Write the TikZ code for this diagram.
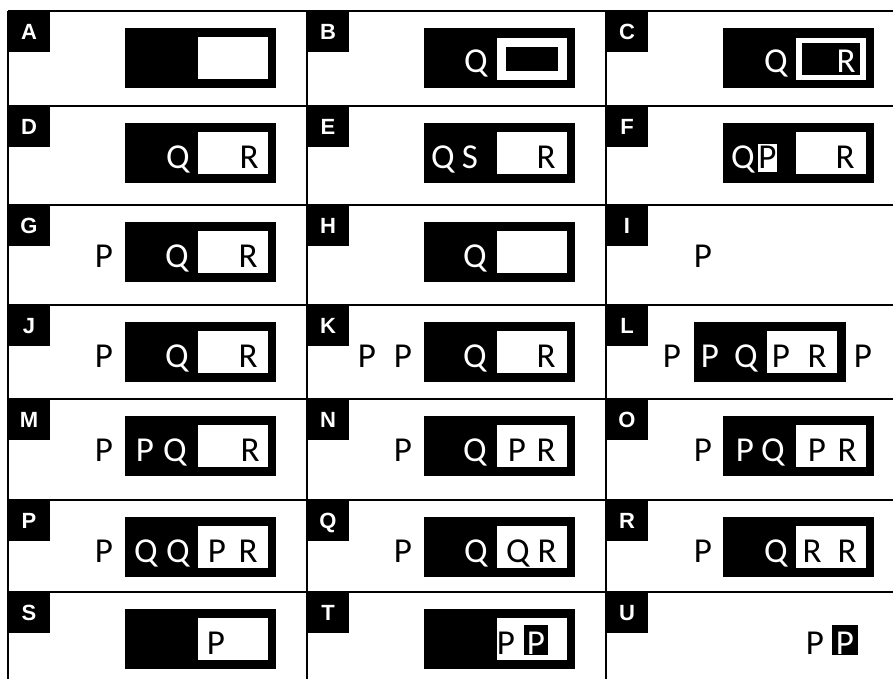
\documentclass[tikz,border=0pt]{standalone}
\usepackage{fontspec}
\setmainfont{Carlito}
\newfontfamily\labfont{Liberation Sans}
\tikzset{
  gridline/.style={line width=2.6pt},
  lab/.style={fill=black, text=white, font=\labfont\bfseries\fontsize{22}{22}\selectfont,
    minimum width=42pt, minimum height=41pt, text height=15.8pt, text depth=0pt,
    inner sep=0pt, outer sep=0pt, anchor=north west},
  ltr/.style={inner sep=0pt, outer sep=0pt, anchor=base, font=\fontsize{35}{35}\selectfont},
  wl/.style={ltr, text=white},
  bl/.style={ltr, text=black},
  blkbox/.style={fill=black, draw=none},
  whtbox/.style={fill=white, draw=none},
}
\newcommand\bx[6]{\node[#2, inner sep=0pt, outer sep=0pt, anchor=north west,
  minimum width={#5pt-#3pt}, minimum height={#6pt-#4pt}] (#1) at (#3,#4) {};}
\newcommand\lt[4]{\node[#2] (#1) at (#3,62) {#4};}
\begin{document}
\begin{tikzpicture}[x=1pt,y=-1pt]
\useasboundingbox (0,0) rectangle (893,679);
\fill[white] (0,0) rectangle (893,679);
\begin{scope}
\clip (0,0) rectangle (893,679);
\foreach \yy in {11,106,205,305,399,500,592} \draw[gridline] (8,\yy) -- (900,\yy);
\foreach \xx in {8,307,606} \draw[gridline] (\xx,11) -- (\xx,690);
\end{scope}
% A
\begin{scope}[shift={(8,11)}]
\node[lab] (labA) at (0,0) {A};
\bx{A-o}{blkbox}{117}{17}{268}{77}
\bx{A-i}{whtbox}{190}{26}{260}{68}
\end{scope}
% B
\begin{scope}[shift={(307,11)}]
\node[lab] (labB) at (0,0) {B};
\bx{B-o}{blkbox}{117}{17}{268}{77}
\bx{B-i}{whtbox}{190}{27}{260}{69}
\bx{B-k}{blkbox}{199}{36}{251}{60}
\lt{B-q}{wl}{169}{Q}
\end{scope}
% C
\begin{scope}[shift={(606,11)}]
\node[lab] (labC) at (0,0) {C};
\bx{C-o}{blkbox}{117}{17}{268}{77}
\bx{C-i}{whtbox}{190}{27}{260}{69}
\bx{C-k}{blkbox}{196}{32}{254}{64}
\lt{C-q}{wl}{170}{Q}
\lt{C-r}{wl}{240}{R}
\end{scope}
% D
\begin{scope}[shift={(8,106)}]
\node[lab] (labD) at (0,0) {D};
\bx{D-o}{blkbox}{117}{17}{268}{77}
\bx{D-i}{whtbox}{190}{26}{260}{68}
\lt{D-q}{wl}{170}{Q}
\lt{D-r}{bl}{241}{R}
\end{scope}
% E
\begin{scope}[shift={(307,106)}]
\node[lab] (labE) at (0,0) {E};
\bx{E-o}{blkbox}{117}{17}{268}{77}
\bx{E-i}{whtbox}{190}{26}{260}{68}
\lt{E-q}{wl}{136}{Q}
\lt{E-s}{wl}{163}{S}
\lt{E-r}{bl}{239}{R}
\end{scope}
% F
\begin{scope}[shift={(606,106)}]
\node[lab] (labF) at (0,0) {F};
\bx{F-o}{blkbox}{117}{17}{268}{77}
\bx{F-i}{whtbox}{190}{26}{260}{68}
\lt{F-q}{wl}{137}{Q}
\bx{F-w}{whtbox}{152}{38}{171}{66}
\lt{F-p}{bl}{161.5}{P}
\lt{F-r}{bl}{239}{R}
\end{scope}
% G
\begin{scope}[shift={(8,205)}]
\node[lab] (labG) at (0,0) {G};
\lt{G-p}{bl}{96}{P}
\bx{G-o}{blkbox}{117}{17}{268}{77}
\bx{G-i}{whtbox}{190}{26}{260}{68}
\lt{G-q}{wl}{169}{Q}
\lt{G-r}{bl}{240}{R}
\end{scope}
% H
\begin{scope}[shift={(307,205)}]
\node[lab] (labH) at (0,0) {H};
\bx{H-o}{blkbox}{117}{17}{268}{77}
\bx{H-i}{whtbox}{190}{26}{260}{68}
\lt{H-q}{wl}{168}{Q}
\end{scope}
% I
\begin{scope}[shift={(606,205)}]
\node[lab] (labI) at (0,0) {I};
\lt{I-p}{bl}{97}{P}
\end{scope}
% J
\begin{scope}[shift={(8,305)}]
\node[lab] (labJ) at (0,0) {J};
\lt{J-p}{bl}{96}{P}
\bx{J-o}{blkbox}{117}{17}{268}{77}
\bx{J-i}{whtbox}{190}{26}{260}{68}
\lt{J-q}{wl}{169}{Q}
\lt{J-r}{bl}{240}{R}
\end{scope}
% K
\begin{scope}[shift={(307,305)}]
\node[lab] (labK) at (0,0) {K};
\lt{K-p1}{bl}{60}{P}
\lt{K-p2}{bl}{96}{P}
\bx{K-o}{blkbox}{117}{17}{268}{77}
\bx{K-i}{whtbox}{190}{26}{260}{68}
\lt{K-q}{wl}{168}{Q}
\lt{K-r}{bl}{239}{R}
\end{scope}
% L
\begin{scope}[shift={(606,305)}]
\node[lab] (labL) at (0,0) {L};
\lt{L-p1}{bl}{66}{P}
\bx{L-o}{blkbox}{88}{17}{240}{77}
\bx{L-i}{whtbox}{161}{26}{231}{68}
\lt{L-p2}{wl}{104}{P}
\lt{L-q}{wl}{140}{Q}
\lt{L-p3}{bl}{175}{P}
\lt{L-r}{bl}{211}{R}
\lt{L-p4}{bl}{257}{P}
\end{scope}
% M
\begin{scope}[shift={(8,399)}]
\node[lab] (labM) at (0,0) {M};
\lt{M-p1}{bl}{96}{P}
\bx{M-o}{blkbox}{117}{17}{268}{77}
\bx{M-i}{whtbox}{190}{26}{260}{68}
\lt{M-p2}{wl}{137}{P}
\lt{M-q}{wl}{167}{Q}
\lt{M-r}{bl}{242}{R}
\end{scope}
% N
\begin{scope}[shift={(307,399)}]
\node[lab] (labN) at (0,0) {N};
\lt{N-p1}{bl}{96}{P}
\bx{N-o}{blkbox}{117}{17}{268}{77}
\bx{N-i}{whtbox}{190}{26}{260}{68}
\lt{N-q}{wl}{168}{Q}
\lt{N-p2}{bl}{210}{P}
\lt{N-r}{bl}{239}{R}
\end{scope}
% O
\begin{scope}[shift={(606,399)}]
\node[lab] (labO) at (0,0) {O};
\lt{O-p1}{bl}{97}{P}
\bx{O-o}{blkbox}{117}{17}{268}{77}
\bx{O-i}{whtbox}{190}{26}{260}{68}
\lt{O-p2}{wl}{139}{P}
\lt{O-q}{wl}{167}{Q}
\lt{O-p3}{bl}{211}{P}
\lt{O-r}{bl}{241}{R}
\end{scope}
% P
\begin{scope}[shift={(8,500)}]
\node[lab] (labP) at (0,0) {P};
\lt{P-p1}{bl}{96}{P}
\bx{P-o}{blkbox}{117}{17}{268}{77}
\bx{P-i}{whtbox}{190}{26}{260}{68}
\lt{P-q1}{wl}{138}{Q}
\lt{P-q2}{wl}{170}{Q}
\lt{P-p2}{bl}{209}{P}
\lt{P-r}{bl}{240}{R}
\end{scope}
% Q
\begin{scope}[shift={(307,500)}]
\node[lab] (labQ) at (0,0) {Q};
\lt{Q-p}{bl}{96}{P}
\bx{Q-o}{blkbox}{117}{17}{268}{77}
\bx{Q-i}{whtbox}{190}{26}{260}{68}
\lt{Q-q1}{wl}{169}{Q}
\lt{Q-q2}{bl}{211}{Q}
\lt{Q-r}{bl}{240}{R}
\end{scope}
% R
\begin{scope}[shift={(606,500)}]
\node[lab] (labR) at (0,0) {R};
\lt{R-p}{bl}{97}{P}
\bx{R-o}{blkbox}{117}{17}{268}{77}
\bx{R-i}{whtbox}{190}{26}{260}{68}
\lt{R-q}{wl}{170}{Q}
\lt{R-r1}{bl}{206}{R}
\lt{R-r2}{bl}{241}{R}
\end{scope}
% S
\begin{scope}[shift={(8,592)}]
\node[lab] (labS) at (0,0) {S};
\bx{S-o}{blkbox}{117}{17}{268}{77}
\bx{S-i}{whtbox}{190}{26}{260}{68}
\lt{S-p}{bl}{208}{P}
\end{scope}
% T
\begin{scope}[shift={(307,592)}]
\node[lab] (labT) at (0,0) {T};
\bx{T-o}{blkbox}{117}{17}{268}{77}
\bx{T-i}{whtbox}{190}{26}{260}{68}
\lt{T-p1}{bl}{199}{P}
\bx{T-k}{blkbox}{217}{33}{241}{63}
\lt{T-p2}{wl}{229}{P}
\end{scope}
% U
\begin{scope}[shift={(606,592)}]
\node[lab] (labU) at (0,0) {U};
\lt{U-p1}{bl}{209}{P}
\bx{U-k}{blkbox}{226}{33}{252}{63}
\lt{U-p2}{wl}{239}{P}
\end{scope}
\end{tikzpicture}
\end{document}
